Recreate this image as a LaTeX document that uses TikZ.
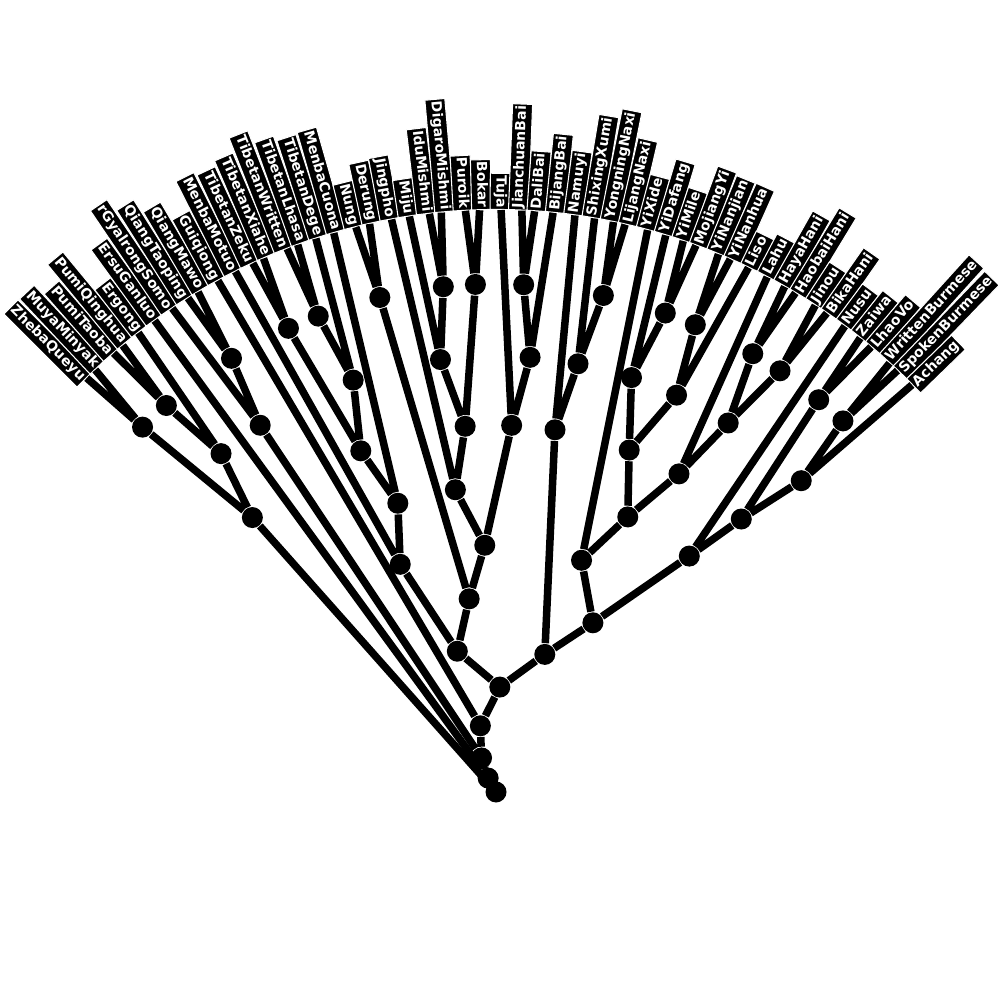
\documentclass[tikz,border=0pt]{standalone}
\usepackage{fontspec}
\setmainfont{DejaVu Sans}
\usetikzlibrary{calc}
\newcommand\setang[2]{\expandafter\xdef\csname treeang#1\endcsname{#2}}
\newcommand\getang[1]{\csname treeang#1\endcsname}
\newcommand\inode[4]{%
  \pgfmathsetmacro\tmpang{(\getang{#2}+\getang{#3})/2}%
  \setang{#1}{\tmpang}%
  \node[dot] (#1) at ($(O)+(\tmpang:#4)$) {};%
  \draw[edge] (#1) -- (#2) (#1) -- (#3);}
\begin{document}
\begin{tikzpicture}[x=0.01cm,y=0.01cm,
  edge/.style={line width=0.075cm},
  dot/.style={circle,fill=black,inner sep=0pt,minimum size=0.21cm},
  lbl/.style={fill=black,draw=white,line width=0.3pt,text=white,
    font=\fontsize{3.98pt}{4.8pt}\selectfont\bfseries,
    inner xsep=0.02cm,inner ysep=0.03cm,text height=0.106cm,text depth=0.034cm,
    minimum height=0.2cm}]
\useasboundingbox (0,0) rectangle (1000,1000);
\coordinate (O) at (496,208);
\foreach \nm [count=\i] in {ZhebaQueyu,MuyaMinyak,PumiTaoba,PumiQinghua,Ergong,ErsuGanluo,rGyalrongSomo,QiangTaoping,QiangMawo,Guiqiong,MenbaMotuo,TibetanZeku,TibetanXiahe,TibetanWritten,TibetanLhasa,TibetanDege,MenbaCuona,Nung,Derung,Jingpho,Miju,IduMishmi,DigaroMishmi,Puroik,Bokar,Tuja,JianchuanBai,DaliBai,BijangBai,Namuyi,ShixingXumi,YongningNaxi,LijangNaxi,YiXide,YiDafang,YiMile,MojiangYi,YiNanjian,YiNanhua,Liso,Lahu,HayaHani,HaobaiHani,Jinou,BikaHani,Nusu,Zaiwa,LhaoVo,WrittenBurmese,SpokenBurmese,Achang}{
  \pgfmathsetmacro\a{135-1.816*(\i-1)}
  \setang{\nm}{\a}
  \ifnum\i<27
    \node[lbl,rotate=\a+180,anchor=east] (\nm) at ($(O)+(\a:582)$) {\nm};
  \else
    \node[lbl,rotate=\a,anchor=west] (\nm) at ($(O)+(\a:582)$) {\nm};
  \fi
}
% Qiangic / rGyalrong
\inode{a1}{ZhebaQueyu}{MuyaMinyak}{508}
\inode{a2}{PumiTaoba}{PumiQinghua}{508}
\inode{a3}{a2}{Ergong}{436}
\inode{a4}{a1}{a3}{367}
\inode{b1}{QiangTaoping}{QiangMawo}{508}
\inode{b2}{rGyalrongSomo}{b1}{436}
% Tibetan
\inode{t1}{TibetanZeku}{TibetanXiahe}{508}
\inode{t2}{TibetanWritten}{TibetanLhasa}{508}
\inode{t3}{t2}{TibetanDege}{436}
\inode{t4}{t1}{t3}{367}
\inode{t5}{t4}{MenbaCuona}{305}
\inode{t6}{t5}{MenbaMotuo}{247}
% Nungish, Mishmi etc.
\inode{nd}{Nung}{Derung}{508}
\inode{m1}{IduMishmi}{DigaroMishmi}{508}
\inode{m2}{Miju}{m1}{436}
\inode{pb}{Puroik}{Bokar}{508}
\inode{m3}{m2}{pb}{367}
\inode{m4}{m3}{Jingpho}{305}
\inode{bai1}{JianchuanBai}{DaliBai}{508}
\inode{bai2}{bai1}{BijangBai}{436}
\inode{bai3}{Tuja}{bai2}{367}
\inode{m5}{m4}{bai3}{247}
\inode{m6}{m5}{nd}{195}
\inode{c7}{t6}{m6}{146}
% Naxi
\inode{n1}{YongningNaxi}{LijangNaxi}{508}
\inode{n2}{ShixingXumi}{n1}{436}
\inode{n3}{Namuyi}{n2}{367}
% Lolo
\inode{y1}{YiMile}{MojiangYi}{508}
\inode{y2}{y1}{YiDafang}{436}
\inode{y3}{YiNanjian}{YiNanhua}{508}
\inode{y4}{y3}{Liso}{436}
\inode{y5}{y2}{y4}{367}
\inode{hh1}{HayaHani}{HaobaiHani}{508}
\inode{hh2}{Jinou}{BikaHani}{508}
\inode{hh3}{hh1}{hh2}{436}
\inode{hh4}{hh3}{Lahu}{367}
\inode{y6}{y5}{hh4}{305}
\inode{y7}{YiXide}{y6}{247}
% Burmish
\inode{bu1}{Zaiwa}{LhaoVo}{508}
\inode{bu2}{WrittenBurmese}{SpokenBurmese}{508}
\inode{bu3}{bu2}{Achang}{436}
\inode{bu4}{bu1}{bu3}{367}
\inode{bu5}{Nusu}{bu4}{305}
\inode{r6}{y7}{bu5}{195}
\inode{r7}{n3}{r6}{146}
% spine
\inode{x8}{c7}{r7}{105}
\inode{N1}{x8}{Guiqiong}{68}
\inode{N2}{N1}{b2}{37}
\inode{N3}{N2}{ErsuGanluo}{16}
\node[dot] (root) at (O) {};
\draw[edge] (root) -- (N3) (root) -- (a4);
\end{tikzpicture}
\end{document}
